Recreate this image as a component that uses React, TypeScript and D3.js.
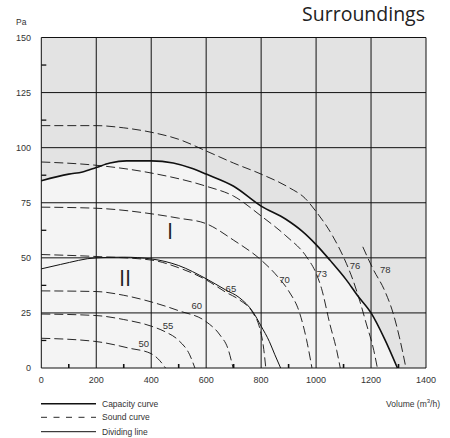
import * as d3 from "d3"

type P = [number, number]

// axis ticks
const xTicks = [0, 200, 400, 600, 800, 1000, 1200, 1400]
const yTicks = [0, 25, 50, 75, 100, 125, 150]
const xMinor = [100, 300, 500, 700, 900, 1100, 1300]
const yMinor = [12.5, 37.5, 62.5, 87.5, 112.5, 137.5]

// capacity curve (m3/h, Pa)
const capacity: P[] = [
  [0, 85], [100, 88], [150, 89], [200, 91], [250, 93], [310, 94], [400, 94], [480, 93],
  [550, 90.5], [600, 88], [700, 82.5], [800, 73.5], [890, 67.5], [950, 62], [1000, 56],
  [1050, 49], [1110, 40], [1150, 33], [1200, 25], [1250, 13], [1296, 0],
]

// dividing line between zone I and II
const dividing: P[] = [
  [0, 45], [70, 47], [200, 50], [300, 50.3], [400, 49.5], [500, 46.5], [600, 40.5],
  [670, 35.5], [720, 32], [770, 25.5], [800, 19], [830, 12], [850, 6], [871, 0],
]

// sound curves, dB(A)
const sound50: P[] = [[0, 13.5], [200, 12], [320, 9], [400, 6.5], [430, 3.5], [452, 0]]
const sound55: P[] = [[0, 24.5], [200, 23.8], [300, 22], [400, 19], [450, 16.5], [500, 12.5], [540, 6], [559, 0]]
const sound60: P[] = [[0, 35], [200, 34.7], [300, 33], [400, 30], [500, 26], [600, 21], [650, 15], [680, 8.5], [698, 0]]
const sound65: P[] = [
  [0, 51.5], [200, 50.6], [400, 49], [500, 45.5], [600, 40], [670, 34.5], [720, 31],
  [770, 25], [795, 18], [808, 10], [817, 0],
]
const sound70: P[] = [
  [0, 73], [200, 72.5], [400, 70], [500, 68], [600, 65.5], [700, 58], [800, 49], [860, 41.5],
  [900, 35], [940, 25], [965, 13], [985, 0],
]
const sound73: P[] = [
  [0, 93.5], [200, 92], [400, 88.5], [600, 82.5], [700, 78], [800, 69], [890, 60], [965, 50.5],
  [1000, 43], [1020, 36], [1050, 20], [1075, 8], [1088, 0],
]
const sound76: P[] = [
  [0, 110], [200, 110], [300, 109], [400, 107], [500, 103.8], [600, 98.5], [700, 93], [800, 88],
  [900, 82], [960, 77], [1000, 71], [1060, 60], [1110, 47.5], [1134, 40], [1160, 30], [1183, 20],
  [1210, 8], [1223, 0],
]
const sound78: P[] = [[1170, 55], [1207, 45], [1250, 35], [1280, 25], [1305, 13], [1327, 0]]

const soundCurves = [sound50, sound55, sound60, sound65, sound70, sound73, sound76, sound78]
const soundLabels = ["50", "55", "60", "65", "70", "73", "76", "78"]
const labelPos: P[] = [
  [373, 11.1], [461, 19.1], [566, 28.2], [690, 35.8], [885, 39.9], [1021, 43], [1142, 46.4], [1252, 44.7],
]

const width = 450
const height = 438

export default function App() {
  const x = d3.scaleLinear().domain([0, 1400]).range([41.3, 426])
  const y = d3.scaleLinear().domain([0, 150]).range([368, 37.5])

  const line = d3
    .line<P>()
    .x((d) => x(d[0]))
    .y((d) => y(d[1]))
    .curve(d3.curveMonotoneX)

  const area = d3
    .area<P>()
    .x((d) => x(d[0]))
    .y0(y(0))
    .y1((d) => y(d[1]))
    .curve(d3.curveMonotoneX)

  const font = "'Liberation Sans', Arial, sans-serif"
  const ink = "#111"

  return (
    <div style={{ position: "fixed", left: 0, top: 0 }}>
      <svg width={width} height={height} style={{ display: "block", background: "#fff" }}>
        <text x={425} y={21} textAnchor="end" fontFamily="'Open Sans', sans-serif" fontSize={19.5} fill="#222">
          Surroundings
        </text>
        <text x={16} y={25} fontFamily={font} fontSize={8.5} fill="#333">Pa</text>

        {/* background zones */}
        <rect x={x(0)} y={y(150)} width={x(1400) - x(0)} height={y(0) - y(150)} fill="#e3e3e3" />
        <path d={area(capacity) ?? ""} fill="#f4f4f4" />

        {/* grid */}
        {xTicks.map((t) => (
          <line key={"gx" + t} x1={x(t)} x2={x(t)} y1={y(0)} y2={y(150)} stroke={ink} strokeWidth={1} />
        ))}
        {yTicks.map((t) => (
          <line key={"gy" + t} x1={x(0)} x2={x(1400)} y1={y(t)} y2={y(t)} stroke={ink} strokeWidth={1} />
        ))}
        {xMinor.map((t) => (
          <line key={"mx" + t} x1={x(t)} x2={x(t)} y1={y(0)} y2={y(0) - 4} stroke={ink} strokeWidth={1.6} />
        ))}
        {yMinor.map((t) => (
          <line key={"my" + t} x1={x(0)} x2={x(0) + 5} y1={y(t)} y2={y(t)} stroke={ink} strokeWidth={1.3} />
        ))}

        {/* tick labels */}
        {yTicks.map((t) => (
          <text key={"ty" + t} x={31} y={y(t)} dy="0.35em" textAnchor="end" fontFamily={font} fontSize={9} fill="#333">
            {t}
          </text>
        ))}
        {xTicks.map((t) => (
          <text key={"tx" + t} x={x(t)} y={380} dy="0.35em" textAnchor="middle" fontFamily={font} fontSize={9} fill="#333">
            {t}
          </text>
        ))}

        {/* sound curves */}
        {soundCurves.map((c, i) => (
          <path key={"s" + i} d={line(c) ?? ""} fill="none" stroke={ink} strokeWidth={0.9} strokeDasharray="9,4" />
        ))}
        {soundLabels.map((s, i) => (
          <text
            key={"sl" + s}
            x={x(labelPos[i][0])}
            y={y(labelPos[i][1])}
            dy="0.35em"
            textAnchor="middle"
            fontFamily={font}
            fontSize={9.5}
            fill="#333"
          >
            {s}
          </text>
        ))}

        {/* dividing line and capacity curve */}
        <path d={line(dividing) ?? ""} fill="none" stroke={ink} strokeWidth={1} />
        <path d={line(capacity) ?? ""} fill="none" stroke={ink} strokeWidth={1.6} />

        {/* zone labels */}
        <text x={x(469)} y={y(62)} dy="0.35em" textAnchor="middle" fontFamily="'Open Sans', sans-serif" fontSize={22} fill="#222">
          I
        </text>
        <text x={x(305)} y={y(40.6)} dy="0.35em" textAnchor="middle" fontFamily="'Open Sans', sans-serif" fontSize={22} fill="#222">
          II
        </text>

        {/* x axis title */}
        <text x={440} y={407} textAnchor="end" fontFamily={font} fontSize={8.5} fill="#333">
          Volume (m<tspan dy={-4} fontSize={6}>3</tspan><tspan dy={4}>/h)</tspan>
        </text>

        {/* legend */}
        <line x1={41} x2={96} y1={403.7} y2={403.7} stroke={ink} strokeWidth={1.5} />
        <text x={102} y={403.7} dy="0.35em" fontFamily={font} fontSize={8.5} fill="#333">Capacity curve</text>
        <line x1={41} x2={96} y1={417.3} y2={417.3} stroke={ink} strokeWidth={0.9} strokeDasharray="6,6.5" />
        <text x={102} y={417.3} dy="0.35em" fontFamily={font} fontSize={8.5} fill="#333">Sound curve</text>
        <line x1={41} x2={96} y1={431.7} y2={431.7} stroke={ink} strokeWidth={1} />
        <text x={102} y={431.7} dy="0.35em" fontFamily={font} fontSize={8.5} fill="#333">Dividing line</text>
      </svg>
    </div>
  )
}
